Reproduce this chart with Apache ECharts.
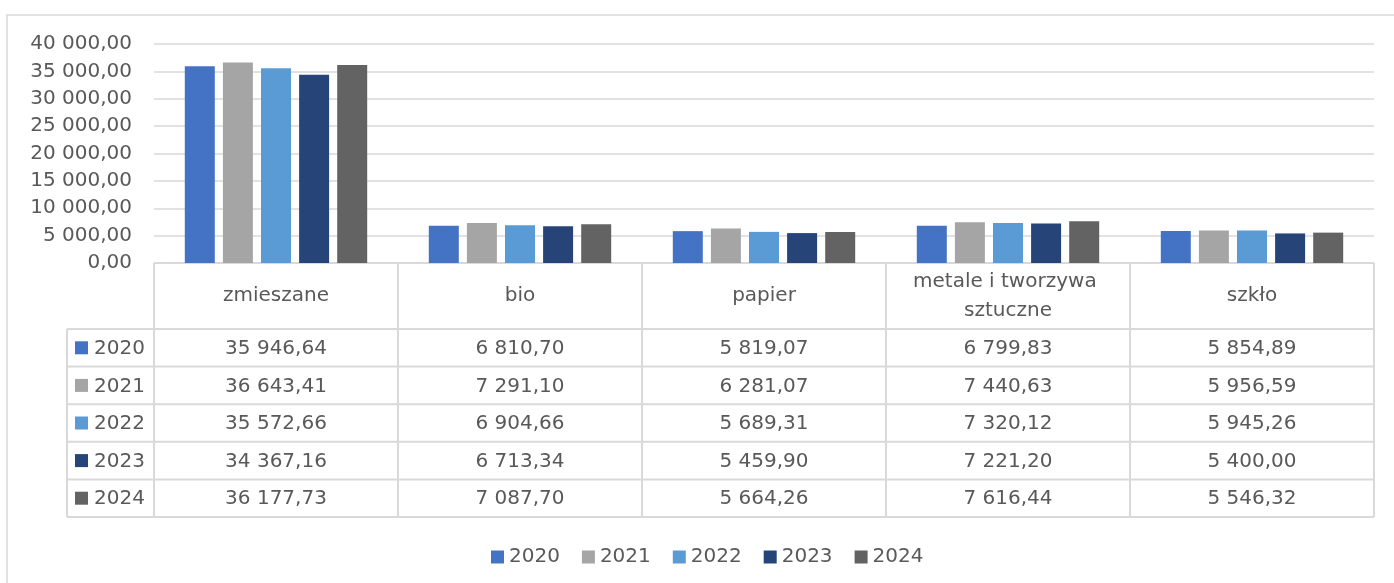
<!DOCTYPE html>
<html>
<head>
<meta charset="utf-8">
<script src="https://cdn.jsdelivr.net/npm/echarts@6/dist/echarts.min.js"></script>
<style>
  html, body { margin: 0; padding: 0; background: #ffffff; }
  #chart { width: 1394px; height: 583px; }
</style>
</head>
<body>
<div id="chart"></div>
<script>
// Waste quantities per fraction and year
const categories = ['zmieszane', 'bio', 'papier', 'metale i tworzywa sztuczne', 'szkło'];
const years = ['2020', '2021', '2022', '2023', '2024'];
const v2020 = [35946.64, 6810.70, 5819.07, 6799.83, 5854.89];
const v2021 = [36643.41, 7291.10, 6281.07, 7440.63, 5956.59];
const v2022 = [35572.66, 6904.66, 5689.31, 7320.12, 5945.26];
const v2023 = [34367.16, 6713.34, 5459.90, 7221.20, 5400.00];
const v2024 = [36177.73, 7087.70, 5664.26, 7616.44, 5546.32];
const seriesValues = [v2020, v2021, v2022, v2023, v2024];
const colors = ['#4472C4', '#A5A5A5', '#5B9BD5', '#264478', '#636363'];

const FONT = '"DejaVu Sans", sans-serif';
const TEXT = '#595959';
const LINE = '#D9D9D9';

// Polish number format: space thousands separator, comma decimals
function fmt(n) {
  const parts = n.toFixed(2).split('.');
  const intPart = parts[0].replace(/\B(?=(\d{3})+(?!\d))/g, ' ');
  return intPart + ',' + parts[1];
}

const chart = echarts.init(document.getElementById('chart'), null, { renderer: 'canvas' });

const gridTop = 44, gridBottomY = 263, gridLeft = 154, gridRight = 1374;

chart.setOption({
  animation: false,
  color: colors,
  textStyle: { fontFamily: FONT, color: TEXT },
  grid: { left: gridLeft, right: 1394 - gridRight, top: gridTop, bottom: 583 - gridBottomY, containLabel: false },
  legend: {
    data: years,
    left: 486,
    top: 542,
    icon: 'rect',
    itemWidth: 13,
    itemHeight: 13,
    itemGap: 22,
    textStyle: { fontFamily: FONT, fontSize: 20, color: TEXT }
  },
  xAxis: {
    type: 'category',
    data: categories,
    axisLine: { show: false },
    axisTick: { show: false },
    axisLabel: { show: false },
    splitLine: { show: false }
  },
  yAxis: {
    type: 'value',
    min: 0,
    max: 40000,
    interval: 5000,
    axisLine: { show: false },
    axisTick: { show: false },
    axisLabel: {
      formatter: v => fmt(v),
      fontFamily: FONT,
      fontSize: 20,
      color: TEXT,
      margin: 22
    },
    splitLine: { lineStyle: { color: LINE, width: 1.5 } }
  },
  series: years.map((y, i) => ({
    name: y,
    type: 'bar',
    data: seriesValues[i],
    barWidth: 30,
    barGap: '27%',
    itemStyle: { color: colors[i] }
  }))
});

// Data table under the plot, aligned to the category axis
function buildTable() {
  const c0 = chart.convertToPixel({ xAxisIndex: 0 }, 0);
  const c1 = chart.convertToPixel({ xAxisIndex: 0 }, 1);
  const colW = c1 - c0;
  const tableLeft = 67;
  const x0 = c0 - colW / 2;
  const xEnd = x0 + colW * categories.length;
  const top = gridBottomY;
  const headerBottom = 329;
  const rowH = 37.6;
  const tableBottom = headerBottom + rowH * years.length;
  const els = [];
  const line = (x1, y1, x2, y2) => els.push({
    type: 'line',
    shape: { x1, y1, x2, y2 },
    style: { stroke: LINE, lineWidth: 2 },
    silent: true
  });
  const text = (t, x, y, align, extra) => els.push({
    type: 'text',
    style: Object.assign({
      text: t, x, y, align, verticalAlign: 'middle',
      fontFamily: FONT, fontSize: 20, fill: TEXT
    }, extra || {}),
    silent: true
  });

  // horizontal rules
  line(x0, top, xEnd, top);
  for (let r = 0; r <= years.length; r++) {
    const y = headerBottom + r * rowH;
    line(tableLeft, y, xEnd, y);
  }
  // vertical rules
  line(tableLeft, headerBottom, tableLeft, tableBottom);
  for (let c = 0; c <= categories.length; c++) {
    const x = x0 + c * colW;
    line(x, top, x, tableBottom);
  }
  // header cells
  categories.forEach((cat, c) => {
    text(cat, x0 + (c + 0.5) * colW, (top + headerBottom) / 2, 'center',
      { width: colW - 24, overflow: 'break', lineHeight: 29 });
  });
  // rows
  years.forEach((yr, r) => {
    const yc = headerBottom + (r + 0.5) * rowH;
    els.push({
      type: 'rect',
      shape: { x: 75, y: yc - 6.5, width: 13, height: 13 },
      style: { fill: colors[r] },
      silent: true
    });
    text(yr, 94, yc + 1, 'left');
    seriesValues[r].forEach((v, c) => {
      text(fmt(v), x0 + (c + 0.5) * colW, yc + 1, 'center');
    });
  });

  // chart frame
  els.push({
    type: 'rect',
    shape: { x: 7, y: 15, width: 1400, height: 600 },
    style: { fill: 'none', stroke: LINE, lineWidth: 1.5 },
    silent: true
  });

  chart.setOption({ graphic: { elements: els } });
}
buildTable();
</script>
</body>
</html>
